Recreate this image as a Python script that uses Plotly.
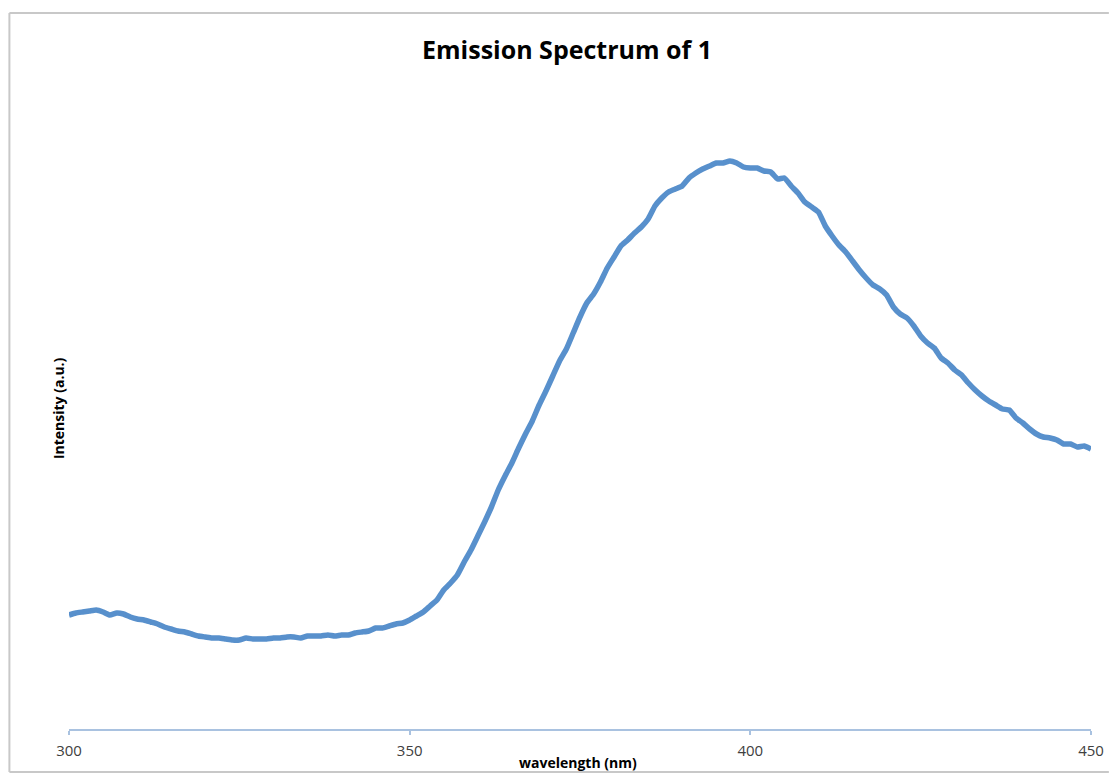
import plotly.graph_objects as go

wavelength = list(range(300, 451))
intensity = [
    114, 116, 117, 118, 119, 117, 114, 116, 115, 112,
    110, 109, 107, 105, 102, 100, 98, 97, 95, 93,
    92, 91, 91, 90, 89, 89, 91, 90, 90, 90,
    91, 91, 92, 92, 91, 93, 93, 93, 94, 93,
    94, 94, 96, 97, 98, 101, 101, 103, 105, 106,
    109, 113, 117, 123, 129, 139, 146, 154, 167, 179,
    193, 207, 222, 239, 253, 266, 281, 295, 308, 324,
    338, 353, 368, 380, 396, 412, 426, 435, 447, 461,
    472, 483, 489, 496, 502, 510, 523, 531, 537, 540,
    543, 551, 556, 560, 563, 566, 566, 568, 566, 562,
    561, 561, 558, 557, 550, 551, 543, 536, 527, 522,
    517, 503, 493, 484, 477, 468, 459, 451, 444, 440,
    434, 422, 415, 411, 403, 393, 386, 381, 371, 366,
    359, 354, 346, 339, 333, 328, 324, 320, 319, 311,
    306, 300, 295, 292, 291, 289, 285, 285, 282, 283,
    280,
]
tick_vals = [300, 350, 400, 450]

W, H = 1116, 774
L, T = 69, 80
PW, PH = 1029, 649


def px(xp):
    return (xp - L) / PW


def py(yp):
    return (T + PH - yp) / PH


fig = go.Figure()
fig.add_trace(go.Scatter(
    x=wavelength, y=intensity, mode="lines",
    line=dict(color="#5890CC", width=5.5, shape="spline", smoothing=0.4),
    hoverinfo="skip", showlegend=False,
))

axis_blue = "#A9C2E0"
border = "#C8C8C8"
font_family = "Open Sans, Lato, sans-serif"
border_lines = [
    (9, 13, 9, 772),      # left
    (9, 13, 1116, 13),    # top
    (9, 772, 1116, 772),  # bottom
]
fig.update_layout(
    width=W, height=H,
    margin=dict(l=L, r=W - L - PW, t=T, b=H - T - PH),
    paper_bgcolor="white", plot_bgcolor="white",
    title=dict(text="<b>Emission Spectrum of 1</b>", x=567 / W, xanchor="center",
               y=1 - 50 / H, yanchor="middle",
               font=dict(family=font_family, size=25, color="#000000")),
    xaxis=dict(range=[300, 450], tickvals=tick_vals, showgrid=False, zeroline=False,
               showline=True, linecolor=axis_blue, linewidth=2,
               ticks="outside", ticklen=4, tickcolor=axis_blue, tickwidth=2,
               ticklabelstandoff=3,
               tickfont=dict(family=font_family, size=15, color="#404040")),
    yaxis=dict(range=[0, 649], showgrid=False, zeroline=False, showline=False,
               showticklabels=False, ticks=""),
    annotations=[
        dict(text="<b>wavelength (nm)</b>", xref="paper", yref="paper",
             x=px(581), y=py(763), xanchor="center", yanchor="middle",
             showarrow=False, font=dict(family=font_family, size=14, color="#000000")),
        dict(text="<b>Intensity (a.u.)</b>", xref="paper", yref="paper",
             x=px(58), y=py(408), xanchor="center", yanchor="middle",
             textangle=-90, showarrow=False,
             font=dict(family=font_family, size=14, color="#000000")),
    ],
    shapes=[
        dict(type="line", xref="paper", yref="paper", layer="below",
             x0=px(a), y0=py(b), x1=px(c), y1=py(d),
             line=dict(color=border, width=2))
        for (a, b, c, d) in border_lines
    ],
)

fig.write_html(
    "out.html",
    config={"displayModeBar": False, "staticPlot": True},
    post_script="document.body.style.margin='0';document.body.style.overflow='hidden';",
)
